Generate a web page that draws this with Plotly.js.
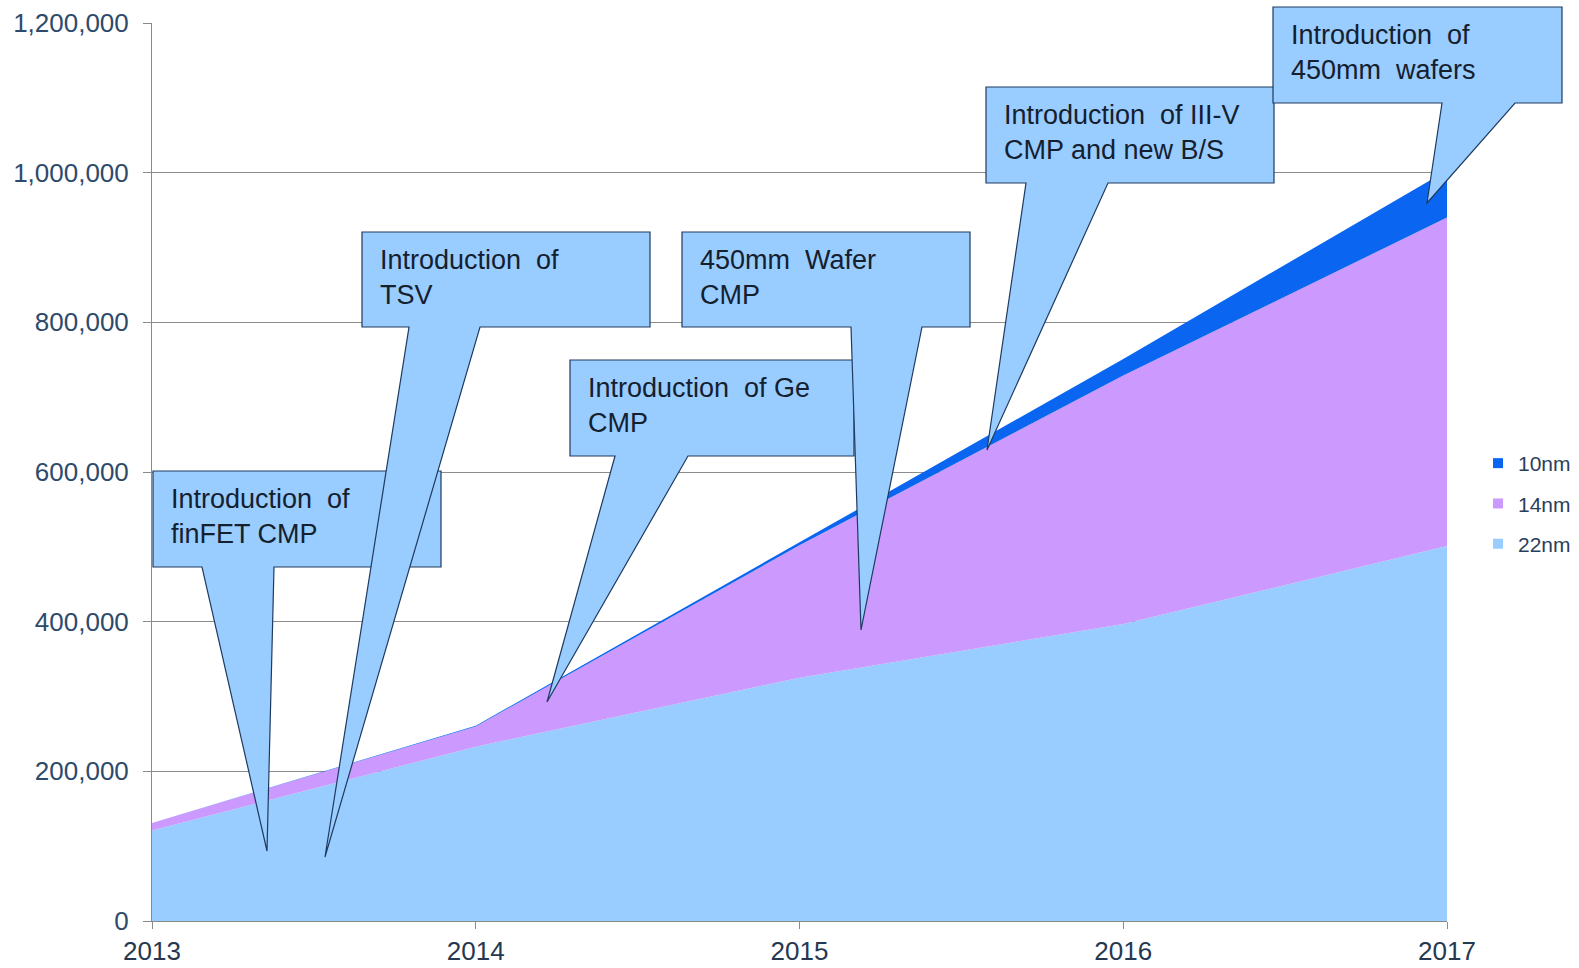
<!DOCTYPE html>
<html>
<head>
<meta charset="utf-8">
<script src="https://cdn.plot.ly/plotly-3.0.1.min.js"></script>
<style>html,body{margin:0;padding:0;background:#fff;}#chart{width:1579px;height:968px;}</style>
</head>
<body>
<div id="chart"></div>
<script>
// ---- data ----
var years = [2013, 2014, 2015, 2016, 2017];
var nm22 = [121000, 233000, 325000, 397000, 501000];
var nm14 = [10000, 27000, 177000, 332000, 439000];
var nm10 = [0, 1000, 4000, 22000, 63000];
var seriesNames = ['22nm', '14nm', '10nm'];
var yTicks = [0, 200000, 400000, 600000, 800000, 1000000, 1200000];

// ---- layout constants ----
var W = 1579, H = 968;
var M = {l: 152, r: 132, t: 23, b: 47, autoexpand: false};
var PW = W - M.l - M.r, PH = H - M.t - M.b;
function px(x) { return (x - M.l) / PW; }
function py(y) { return (H - M.b - y) / PH; }

var colors = {'22nm': '#99CCFF', '14nm': '#CC99FF', '10nm': '#0A66F0'};
var seriesVals = {'22nm': nm22, '14nm': nm14, '10nm': nm10};

var traces = [];
seriesNames.forEach(function (n) {
  traces.push({
    type: 'scatter', x: years, y: seriesVals[n], name: n,
    stackgroup: 'one', mode: 'none', fillcolor: colors[n],
    line: {width: 0}, showlegend: false, hoverinfo: 'x+y+name'
  });
});
// legend proxies (square markers)
['10nm', '14nm', '22nm'].forEach(function (n) {
  traces.push({
    type: 'scatter', x: [null], y: [null], name: n, mode: 'markers',
    marker: {symbol: 'square', size: 10, color: colors[n]}, showlegend: true,
    legendgroup: n
  });
});

// callout geometry (pixel space of the page)
var callouts = [
  {text: 'Introduction&nbsp; of<br>finFET CMP', box: [153, 471, 441, 567], base: [202, 274], tip: [267, 851]},
  {text: 'Introduction&nbsp; of<br>TSV', box: [362, 232, 650, 327], base: [409, 480], tip: [325, 857]},
  {text: 'Introduction&nbsp; of Ge<br>CMP', box: [570, 360, 854, 456], base: [615, 688], tip: [547, 702]},
  {text: '450mm&nbsp; Wafer<br>CMP', box: [682, 232, 970, 327], base: [851, 922], tip: [861, 630]},
  {text: 'Introduction&nbsp; of III-V<br>CMP and new B/S', box: [986, 87, 1274, 183], base: [1026, 1108], tip: [987, 450]},
  {text: 'Introduction&nbsp; of<br>450mm&nbsp; wafers', box: [1273, 7, 1562, 103], base: [1442, 1515], tip: [1427, 203]}
];

var shapes = [], annotations = [];
callouts.forEach(function (c) {
  var b = c.box;
  var pts = [[b[0], b[1]], [b[2], b[1]], [b[2], b[3]], [c.base[1], b[3]], [c.tip[0], c.tip[1]], [c.base[0], b[3]], [b[0], b[3]]];
  var path = pts.map(function (p, i) { return (i ? 'L' : 'M') + px(p[0]).toFixed(5) + ',' + py(p[1]).toFixed(5); }).join(' ') + ' Z';
  shapes.push({type: 'path', xref: 'paper', yref: 'paper', path: path,
    fillcolor: '#99CCFF', line: {color: '#1F3A5F', width: 1.2}, layer: 'above'});
  annotations.push({xref: 'paper', yref: 'paper', x: px(b[0] + 16), y: py(b[1] + 11),
    xanchor: 'left', yanchor: 'top', align: 'left', showarrow: false, text: c.text,
    font: {family: 'Liberation Sans, Arial, sans-serif', size: 27, color: '#15202E'}});
});

var layout = {
  width: W, height: H, margin: M,
  paper_bgcolor: '#ffffff', plot_bgcolor: '#ffffff',
  font: {family: 'Liberation Sans, Arial, sans-serif', color: '#2B3F5C'},
  xaxis: {range: [2013, 2017], tickvals: years, ticktext: years.map(String),
    showgrid: false, zeroline: false, showline: true, linecolor: '#8a8a8a', linewidth: 1,
    ticks: 'outside', ticklen: 7, tickcolor: '#8a8a8a',
    tickfont: {size: 26, color: '#253850'}, fixedrange: true},
  yaxis: {range: [0, 1200000], tickvals: yTicks, tickformat: ',d',
    showgrid: true, gridcolor: '#8c8c8c', gridwidth: 1, zeroline: false,
    showline: true, linecolor: '#8a8a8a', linewidth: 1,
    ticks: 'outside', ticklen: 8, tickcolor: '#8a8a8a', ticklabelstandoff: 9,
    tickfont: {size: 26, color: '#2E4A6B'}, fixedrange: true},
  legend: {x: px(1478), y: py(443), xanchor: 'left', yanchor: 'top',
    font: {size: 21, color: '#2B3F5C'}, tracegroupgap: 10, itemwidth: 30,
    bgcolor: 'rgba(0,0,0,0)'},
  shapes: shapes, annotations: annotations, showlegend: true
};

Plotly.newPlot('chart', traces, layout, {displayModeBar: false, staticPlot: true});
</script>
</body>
</html>
